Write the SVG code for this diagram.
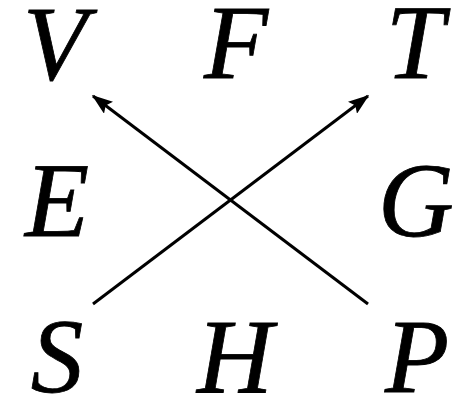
<svg xmlns="http://www.w3.org/2000/svg" width="459" height="400" viewBox="0 0 459 400">
<style>
text{font-family:"Liberation Serif","Times New Roman",serif;font-style:italic;font-size:105px;fill:#000;stroke:#000;stroke-width:0.8;text-anchor:middle}
.c{stroke:#000;stroke-width:3;fill:none}
</style>
<defs>
<marker id="ah" markerWidth="7" markerHeight="5" refX="6.5" refY="2.5" orient="auto" markerUnits="strokeWidth">
<path d="M0,0 L7,2.5 L0,5 L1.2,2.5 Z" fill="#000"/>
</marker>
</defs>
<rect width="459" height="400" fill="#fff"/>
<g id="V"><text x="55" y="79">V</text></g>
<g id="F"><text x="236" y="78">F</text></g>
<g id="T"><text x="415" y="78">T</text></g>
<g id="E"><text x="57" y="236">E</text></g>
<g id="G"><text x="416" y="236">G</text></g>
<g id="S"><text x="57" y="392">S</text></g>
<g id="H"><text x="235" y="392">H</text></g>
<g id="P"><text x="417" y="392">P</text></g>
<g id="connectors">
<line class="c" x1="368" y1="304" x2="93" y2="96" marker-end="url(#ah)"/>
<line class="c" x1="93" y1="304" x2="368" y2="96" marker-end="url(#ah)"/>
</g>
</svg>
